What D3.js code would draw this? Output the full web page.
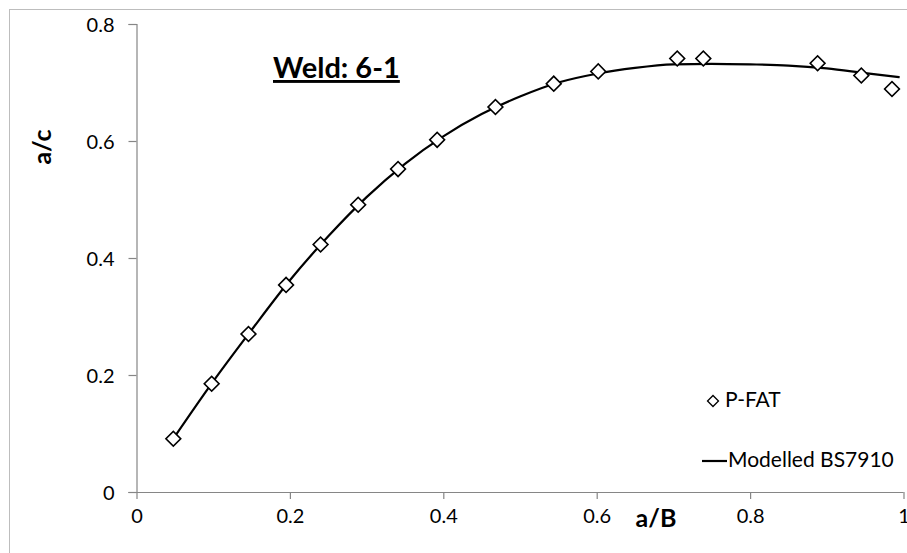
<!DOCTYPE html>
<html>
<head>
<meta charset="utf-8">
<script src="https://cdn.jsdelivr.net/npm/d3@7"></script>
<style>
    body { margin: 0; background: #fff; }
    svg { display: block; font-family: Lato, "Open Sans", sans-serif; }
</style>
</head>
<body>
<svg id="chart" width="907" height="553"></svg>
<script>
// P-FAT measured points
const pfatAB = [0.048, 0.098, 0.146, 0.195, 0.240, 0.289, 0.341, 0.392, 0.468, 0.544, 0.602, 0.705, 0.739, 0.888, 0.945, 0.985];
const pfatAC = [0.091, 0.185, 0.270, 0.354, 0.423, 0.491, 0.552, 0.602, 0.658, 0.698, 0.719, 0.741, 0.741, 0.733, 0.712, 0.689];

// Modelled BS7910 curve
const modelAB = [0.048, 0.10, 0.15, 0.20, 0.25, 0.30, 0.35, 0.40, 0.45, 0.50, 0.55, 0.60, 0.65, 0.70, 0.75, 0.80, 0.85, 0.90, 0.95, 0.995];
const modelAC = [0.091, 0.189, 0.277, 0.362, 0.437, 0.504, 0.561, 0.608, 0.646, 0.676, 0.700, 0.715, 0.725, 0.731, 0.732, 0.731, 0.729, 0.724, 0.716, 0.709];

const xTicks = [0, 0.2, 0.4, 0.6, 0.8, 1];
const yTicks = [0, 0.2, 0.4, 0.6, 0.8];

const svg = d3.select('#chart');

// outer chart border
svg.append('rect')
    .attr('x', 9.5).attr('y', 9.5)
    .attr('width', 1000).attr('height', 1000)
    .attr('fill', 'none')
    .attr('stroke', '#bdbdbd');

const xScale = d3.scaleLinear().domain([0, 1]).range([136.5, 903.5]);
const yScale = d3.scaleLinear().domain([0, 0.8]).range([492, 24]);

const axisColor = '#868686';

// x axis
const xAxis = svg.append('g')
    .attr('transform', `translate(0,${yScale(0)})`)
    .call(d3.axisBottom(xScale).tickValues(xTicks).tickSize(7).tickPadding(10)
        .tickFormat(d => d === 0 || d === 1 ? d3.format('d')(d) : d3.format('.1f')(d)));

// y axis
const yAxis = svg.append('g')
    .attr('transform', `translate(${xScale(0)},0)`)
    .call(d3.axisLeft(yScale).tickValues(yTicks).tickSize(8).tickPadding(14)
        .tickFormat(d => d === 0 ? '0' : d3.format('.1f')(d)));

[xAxis, yAxis].forEach(ax => {
    ax.select('.domain').attr('stroke', axisColor).attr('stroke-width', 1.2);
    ax.selectAll('.tick line').attr('stroke', axisColor).attr('stroke-width', 1.2);
    ax.selectAll('.tick text')
        .attr('fill', '#000')
        .style('font-size', '20px')
        .style('font-family', 'Lato, "Open Sans", sans-serif');
});
yAxis.selectAll('.tick text').attr('dy', '0.36em');
xAxis.select('.domain').attr('d', `M${xScale(0) - 8},0.5H${xScale(1)}`);

// model line
svg.append('path')
    .datum(d3.zip(modelAB, modelAC))
    .attr('fill', 'none')
    .attr('stroke', '#000')
    .attr('stroke-width', 2.2)
    .attr('d', d3.line()
        .x(d => xScale(d[0]))
        .y(d => yScale(d[1]))
        .curve(d3.curveMonotoneX));

// P-FAT diamonds
const diamond = d3.symbol().type(d3.symbolSquare).size(110);
svg.append('g')
    .selectAll('path')
    .data(d3.zip(pfatAB, pfatAC))
    .join('path')
    .attr('d', diamond)
    .attr('transform', d => `translate(${xScale(d[0])},${yScale(d[1])}) rotate(45)`)
    .attr('fill', '#fff')
    .attr('stroke', '#000')
    .attr('stroke-width', 1.6);

// axis titles
svg.append('text')
    .attr('x', 656)
    .attr('y', 527)
    .attr('text-anchor', 'middle')
    .style('font-size', '25px')
    .style('font-weight', 'bold')
    .text('a/B');

svg.append('text')
    .attr('transform', 'translate(51,147) rotate(-90)')
    .attr('text-anchor', 'middle')
    .style('font-size', '25px')
    .style('font-weight', 'bold')
    .text('a/c');

// title
svg.append('text')
    .attr('x', 273)
    .attr('y', 78)
    .style('font-size', '29px')
    .style('font-weight', 'bold')
    .style('text-decoration', 'underline')
    .text('Weld: 6-1');

// legend
const legend = svg.append('g');
legend.append('path')
    .attr('d', d3.symbol().type(d3.symbolSquare).size(60))
    .attr('transform', 'translate(713,401) rotate(45)')
    .attr('fill', '#fff')
    .attr('stroke', '#000')
    .attr('stroke-width', 1.3);
legend.append('text')
    .attr('x', 725)
    .attr('y', 407)
    .style('font-size', '21px')
    .text('P-FAT');
legend.append('line')
    .attr('x1', 702).attr('x2', 727)
    .attr('y1', 461).attr('y2', 461)
    .attr('stroke', '#000')
    .attr('stroke-width', 2.2);
legend.append('text')
    .attr('x', 728)
    .attr('y', 467)
    .style('font-size', '21px')
    .text('Modelled BS7910');
</script>
</body>
</html>
